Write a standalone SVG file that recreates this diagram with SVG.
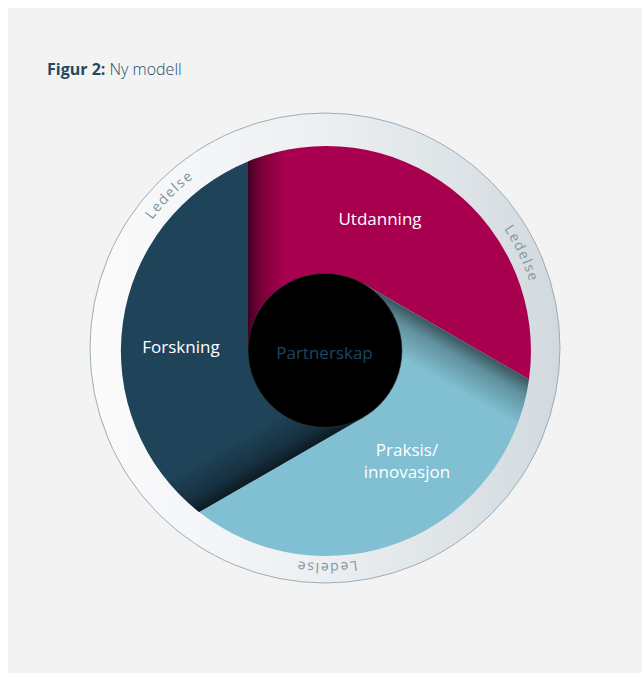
<svg xmlns="http://www.w3.org/2000/svg" xmlns:xlink="http://www.w3.org/1999/xlink" width="642" height="675" viewBox="0 0 642 675">
  <style>
    .lbl { font-family: "Open Sans", "Noto Sans", "Liberation Sans", sans-serif; font-size: 17px; fill: #ffffff; text-anchor: middle; }
    .ring-txt { font-family: "Open Sans", "Noto Sans", "Liberation Sans", sans-serif; font-size: 14px; fill: #7f95a3; letter-spacing: 1.5px; text-anchor: middle; }
    .title { font-family: "Open Sans", "Noto Sans", "Liberation Sans", sans-serif; font-size: 16px; fill: #1f4a63; }
  </style>
  <defs>
    <linearGradient id="ringGrad" gradientUnits="userSpaceOnUse" x1="90" y1="0" x2="560" y2="0">
      <stop offset="0" stop-color="#fbfbfc"/>
      <stop offset="0.5" stop-color="#eceff1"/>
      <stop offset="1" stop-color="#d2dadf"/>
    </linearGradient>
    <linearGradient id="shadeU" gradientUnits="userSpaceOnUse" x1="248" y1="0" x2="285" y2="0">
      <stop offset="0" stop-color="#000" stop-opacity="0.6"/>
      <stop offset="0.35" stop-color="#000" stop-opacity="0.28"/>
      <stop offset="1" stop-color="#000" stop-opacity="0"/>
    </linearGradient>
    <linearGradient id="shadeP" gradientUnits="userSpaceOnUse" x1="529" y1="379.4" x2="506.5" y2="418.4">
      <stop offset="0" stop-color="#000" stop-opacity="0.55"/>
      <stop offset="0.35" stop-color="#000" stop-opacity="0.25"/>
      <stop offset="1" stop-color="#000" stop-opacity="0"/>
    </linearGradient>
    <linearGradient id="shadeF" gradientUnits="userSpaceOnUse" x1="199.1" y1="512.1" x2="176.6" y2="473.1">
      <stop offset="0" stop-color="#000" stop-opacity="0.6"/>
      <stop offset="0.35" stop-color="#000" stop-opacity="0.28"/>
      <stop offset="1" stop-color="#000" stop-opacity="0"/>
    </linearGradient>
    <path id="ringPath" d="M 110 348 A 215 215 0 1 1 540 348 A 215 215 0 1 1 110 348"/>
  </defs>

  <rect x="8" y="8" width="634" height="665" fill="#f3f3f3"/>

  <g id="title">
    <text class="title" x="47" y="75"><tspan font-weight="700">Figur 2:</tspan><tspan font-weight="300"> Ny modell</tspan></text>
  </g>

  <g id="ledelse-ring">
    <circle cx="325" cy="348" r="235" fill="url(#ringGrad)" stroke="#9cadb8" stroke-width="1"/>
    <text class="ring-txt"><textPath xlink:href="#ringPath" href="#ringPath" startOffset="167">Ledelse</textPath></text>
    <text class="ring-txt"><textPath xlink:href="#ringPath" href="#ringPath" startOffset="579">Ledelse</textPath></text>
    <text class="ring-txt"><textPath xlink:href="#ringPath" href="#ringPath" startOffset="1011">Ledelse</textPath></text>
  </g>

  <g id="utdanning">
    <path d="M 248 161.4 A 205 205 0 0 1 529 379.4 L 363.5 283.8 L 325 350.5 L 248 350.5 Z" fill="#a8004f"/>
    <path d="M 248 161.4 A 205 205 0 0 1 529 379.4 L 363.5 283.8 L 325 350.5 L 248 350.5 Z" fill="url(#shadeU)"/>
    <text class="lbl" x="380" y="225">Utdanning</text>
  </g>

  <g id="praksis">
    <path d="M 529 379.4 A 205 205 0 0 1 199.1 512.1 L 363.5 417.2 L 325 350.5 L 363.5 283.8 Z" fill="#80c0d2"/>
    <path d="M 529 379.4 A 205 205 0 0 1 199.1 512.1 L 363.5 417.2 L 325 350.5 L 363.5 283.8 Z" fill="url(#shadeP)"/>
    <text class="lbl" x="407" y="456">Praksis/</text>
    <text class="lbl" x="407" y="478">innovasjon</text>
  </g>

  <g id="forskning">
    <path d="M 199.1 512.1 A 205 205 0 0 1 248 161.4 L 248 350.5 L 325 350.5 L 363.5 417.2 Z" fill="#1f445a"/>
    <path d="M 199.1 512.1 A 205 205 0 0 1 248 161.4 L 248 350.5 L 325 350.5 L 363.5 417.2 Z" fill="url(#shadeF)"/>
    <text class="lbl" x="181" y="352.5">Forskning</text>
  </g>

  <g id="partnerskap">
    <circle cx="325" cy="350.5" r="77" fill="#000000" stroke="#3a3a3a" stroke-width="0.6"/>
    <text class="lbl" x="324.5" y="358.5" style="fill:#1f4560">Partnerskap</text>
  </g>
</svg>
